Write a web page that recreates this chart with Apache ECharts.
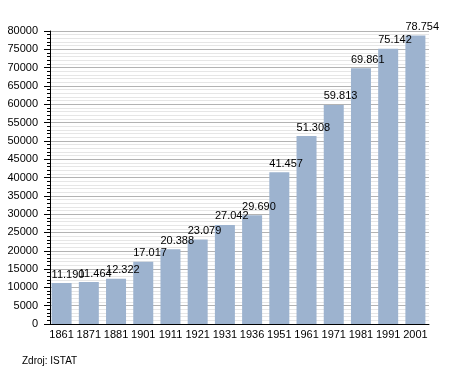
<!DOCTYPE html>
<html><head><meta charset="utf-8">
<script src="https://cdn.jsdelivr.net/npm/echarts@6/dist/echarts.min.js"></script>
<style>html,body{margin:0;padding:0;background:#fff}#c{width:455px;height:373px}</style>
</head><body><div id="c"></div>
<script>
const years = ['1861','1871','1881','1901','1911','1921','1931','1936','1951','1961','1971','1981','1991','2001'];
const population = [11190, 11464, 12322, 17017, 20388, 23079, 27042, 29690, 41457, 51308, 59813, 69861, 75142, 78754];
const yTicks = [0, 5000, 10000, 15000, 20000, 25000, 30000, 35000, 40000, 45000, 50000, 55000, 60000, 65000, 70000, 75000, 80000];
const sourceText = 'Zdroj: ISTAT';

const fmt = v => String(v).replace(/\B(?=(\d{3})+(?!\d))/g, '.');
const font = '"Liberation Sans", Arial, sans-serif';
const chart = echarts.init(document.getElementById('c'), null, {renderer: 'canvas'});
chart.setOption({
  animation: false,
  textStyle: {fontFamily: font},
  grid: {left: 48, right: 26, top: 31, bottom: 49, containLabel: false},
  xAxis: {
    type: 'category', data: years,
    axisLine: {lineStyle: {color: '#000', width: 1}},
    axisTick: {show: false},
    axisLabel: {color: '#000', fontSize: 11, fontFamily: font, margin: 5, interval: 0}
  },
  yAxis: {
    type: 'value', min: yTicks[0], max: yTicks[yTicks.length - 1], interval: yTicks[1] - yTicks[0],
    offset: -2,
    axisLine: {show: true, lineStyle: {color: '#000', width: 1}},
    axisTick: {show: true, length: 6, lineStyle: {color: '#000'}},
    minorTick: {show: true, splitNumber: 5, length: 3, lineStyle: {color: '#000'}},
    axisLabel: {color: '#000', fontSize: 11, fontFamily: font, margin: 12, formatter: v => String(v)},
    splitLine: {show: true, lineStyle: {color: '#b3b3b3', width: 1}},
    minorSplitLine: {show: true, lineStyle: {color: '#e6e6e6', width: 1}}
  },
  series: [{
    type: 'bar', data: population,
    barWidth: 20,
    itemStyle: {color: '#9db3cf'},
    label: {
      show: true, position: [0, -3], align: 'left', verticalAlign: 'bottom',
      color: '#000', fontSize: 11, fontFamily: font,
      formatter: p => fmt(p.value)
    }
  }],
  graphic: [{
    type: 'text', left: 22, top: 356,
    style: {text: sourceText, font: '10px ' + font, fill: '#000'}
  }]
});
</script></body></html>
